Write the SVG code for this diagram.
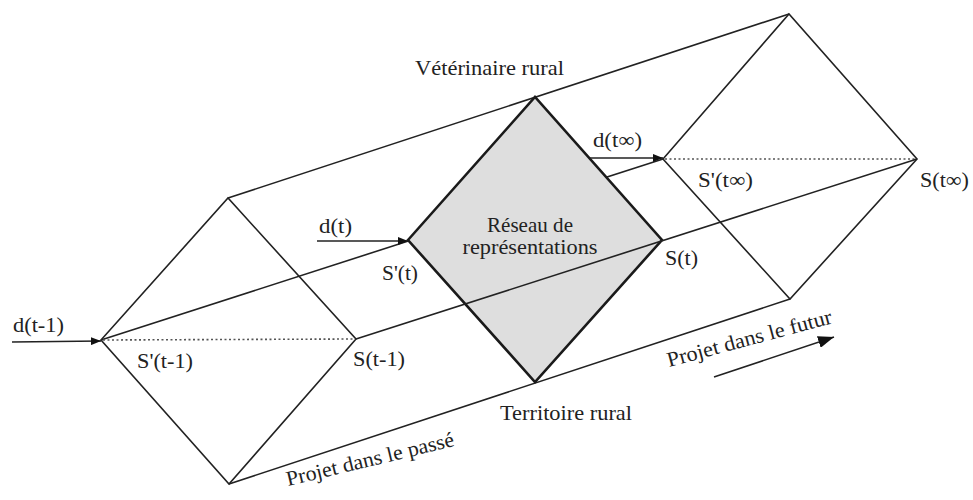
<svg xmlns="http://www.w3.org/2000/svg" width="973" height="500" viewBox="0 0 973 500">
<defs>
<style>
.ln{stroke:#222;stroke-width:1.6;fill:none;stroke-linejoin:miter}
.dot{stroke:#555;stroke-width:1.6;stroke-dasharray:2 2.5;fill:none}
.arr{stroke:#222;stroke-width:1.6;fill:none}
.t{font-family:'Liberation Serif','Times New Roman',Tinos,'DejaVu Serif',serif;font-size:21px;fill:#222}
</style>
<marker id="ah" viewBox="0 0 10 8" refX="10" refY="4" markerWidth="10" markerHeight="8" markerUnits="userSpaceOnUse" orient="auto">
<path d="M0,0 L10,4 L0,8 Z" fill="#111"/>
</marker>
<marker id="ahb" viewBox="0 0 16 12" refX="16" refY="6" markerWidth="16" markerHeight="12" markerUnits="userSpaceOnUse" orient="auto">
<path d="M0,0 L16,6 L0,12 Z" fill="#111"/>
</marker>
</defs>
<rect width="973" height="500" fill="#fff"/>
<g id="connectors">
<line class="ln" x1="101" y1="340" x2="663" y2="159"/>
<line class="ln" x1="228" y1="198" x2="789" y2="14"/>
<line class="ln" x1="229" y1="484" x2="790" y2="299"/>
</g>
<g id="past-section">
<polygon class="ln" points="101,340 228,198 356,339 229,484"/>
<line class="dot" x1="103" y1="340" x2="354" y2="339"/>
</g>
<g id="future-section">
<polygon class="ln" points="663,159 789,14 917,159 790,299"/>
<line class="dot" x1="665" y1="159" x2="915" y2="159"/>
</g>
<g id="reseau">
<polygon points="408,240 535,97 662,240 535,382" fill="#dedede" stroke="#1a1a1a" stroke-width="2.6" stroke-linejoin="miter"/>
<text class="t" font-family="Liberation Serif, serif" x="530" y="232" text-anchor="middle" font-size="18" textLength="86" lengthAdjust="spacingAndGlyphs">Réseau de</text>
<text class="t" font-family="Liberation Serif, serif" x="530" y="254" text-anchor="middle" font-size="18" textLength="135" lengthAdjust="spacingAndGlyphs">représentations</text>
</g>
<g id="edge-right">
<line class="ln" x1="356" y1="339" x2="917" y2="159"/>
</g>
<g id="arrows">
<line class="arr" x1="12" y1="342" x2="101" y2="341" marker-end="url(#ah)"/>
<line class="arr" x1="317" y1="241" x2="408" y2="241" marker-end="url(#ah)"/>
<line class="arr" x1="590" y1="158" x2="663" y2="158" marker-end="url(#ah)"/>
<line class="arr" x1="714" y1="377" x2="834" y2="337" marker-end="url(#ahb)"/>
</g>
<g id="labels" font-family="Liberation Serif, serif">
<text class="t" x="415" y="75" textLength="149" lengthAdjust="spacingAndGlyphs">Vétérinaire rural</text>
<text class="t" x="500" y="420" textLength="132" lengthAdjust="spacingAndGlyphs">Territoire rural</text>
<text class="t" x="13" y="332" textLength="51" lengthAdjust="spacingAndGlyphs">d(t-1)</text>
<text class="t" x="137" y="368" textLength="56" lengthAdjust="spacingAndGlyphs">S'(t-1)</text>
<text class="t" x="353" y="366" textLength="52" lengthAdjust="spacingAndGlyphs">S(t-1)</text>
<text class="t" x="319" y="233" textLength="33" lengthAdjust="spacingAndGlyphs">d(t)</text>
<text class="t" x="382" y="280" textLength="36" lengthAdjust="spacingAndGlyphs">S'(t)</text>
<text class="t" x="665" y="265" textLength="33" lengthAdjust="spacingAndGlyphs">S(t)</text>
<text class="t" x="593" y="147" textLength="49" lengthAdjust="spacingAndGlyphs">d(t∞)</text>
<text class="t" x="698" y="187" textLength="55" lengthAdjust="spacingAndGlyphs">S'(t∞)</text>
<text class="t" x="920" y="187" textLength="49" lengthAdjust="spacingAndGlyphs">S(t∞)</text>
<text class="t" transform="translate(288,486) rotate(-13.5)" textLength="172" lengthAdjust="spacingAndGlyphs">Projet dans le passé</text>
<text class="t" transform="translate(669,367) rotate(-15)" textLength="170" lengthAdjust="spacingAndGlyphs">Projet dans le futur</text>
</g>
</svg>
